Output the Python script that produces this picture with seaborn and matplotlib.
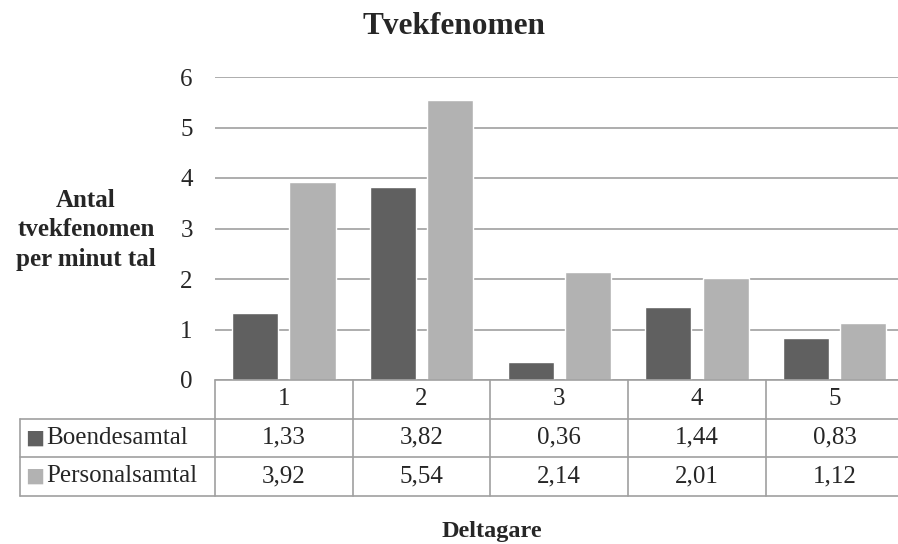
import matplotlib
matplotlib.use("Agg")
import matplotlib.pyplot as plt
import matplotlib.transforms as mtransforms
import seaborn as sns
import pandas as pd

categories = ["1", "2", "3", "4", "5"]
series_names = ["Boendesamtal", "Personalsamtal"]
boende = [1.33, 3.82, 0.36, 1.44, 0.83]
personal = [3.92, 5.54, 2.14, 2.01, 1.12]
yticks = [0, 1, 2, 3, 4, 5, 6]
colors = ["#606060", "#b2b2b2"]

sns.set_style("white")
plt.rcParams["font.family"] = "serif"
plt.rcParams["font.serif"] = ["Liberation Serif", "Times New Roman", "DejaVu Serif"]

W, H = 898, 544
fig = plt.figure(figsize=(W / 100, H / 100), dpi=100)
ax_left, ax_right, ax_top, ax_bot = 215, 903.5, 77, 380
ax = fig.add_axes([ax_left / W, 1 - ax_bot / H, (ax_right - ax_left) / W, (ax_bot - ax_top) / H])

df = pd.DataFrame({
    "Deltagare": categories * 2,
    "Serie": [series_names[0]] * 5 + [series_names[1]] * 5,
    "Varde": boende + personal,
})
sns.barplot(data=df, x="Deltagare", y="Varde", hue="Serie", palette=colors,
            width=0.832, gap=0.195, ax=ax, legend=False, saturation=1)

fs = 18
ax.set_ylim(0, 6)
ax.set_xlim(-0.5, 4.5)
ax.set_yticks(yticks)
ax.set_yticklabels([str(t) for t in yticks], fontsize=fs)
ax.tick_params(axis="y", length=0, pad=16)
ax.tick_params(axis="x", length=0, labelbottom=False)
ax.set_xlabel("")
ax.set_ylabel("")
for s in ax.spines.values():
    s.set_visible(False)
ax.yaxis.grid(True, color="#a0a0a0", linewidth=1.2)
ax.set_axisbelow(True)

# data table
grid_c = "#a0a0a0"
tr = mtransforms.blended_transform_factory(ax.transData, ax.transAxes)
axh = ax_bot - ax_top
rh = 38.5 / axh
xl = -0.5 - (ax_left - 20) / ((ax_right - ax_left) / 5)
n = len(categories)
lk = dict(color=grid_c, linewidth=1.2, transform=tr, clip_on=False)
ax.plot([-0.5, n - 0.5], [0, 0], **lk)
for r in range(1, 4):
    ax.plot([xl, n - 0.5], [-r * rh, -r * rh], **lk)
for i in range(n + 1):
    ax.plot([i - 0.5, i - 0.5], [0, -3 * rh], **lk)
ax.plot([xl, xl], [-rh, -3 * rh], **lk)

for i, c in enumerate(categories):
    ax.text(i, -0.5 * rh, c, transform=tr, ha="center", va="center", fontsize=fs)
for r, (name, vals, col) in enumerate(zip(series_names, [boende, personal], colors)):
    yc = -(1.5 + r) * rh
    for i, v in enumerate(vals):
        ax.text(i, yc, f"{v:.2f}".replace(".", ","), transform=tr,
                ha="center", va="center", fontsize=fs)
    ax.text(xl + 0.035, yc, "\u25a0", transform=tr, ha="left", va="center",
            fontsize=14.5, color=col, family="DejaVu Sans")
    ax.text(xl + 0.19, yc, name, transform=tr, ha="left", va="center", fontsize=fs)

fig.text(454 / W, 1 - 27 / H, "Tvekfenomen", ha="center", va="center",
         fontsize=22.5, fontweight="bold")
fig.text(86 / W, 1 - 230 / H, "Antal\ntvekfenomen\nper minut tal", ha="center",
         va="center", fontsize=18, fontweight="bold", linespacing=1.38)
fig.text(492 / W, 1 - 532 / H, "Deltagare", ha="center", va="center",
         fontsize=17.5, fontweight="bold")

fig.savefig("out.png", dpi=100, facecolor="white")
